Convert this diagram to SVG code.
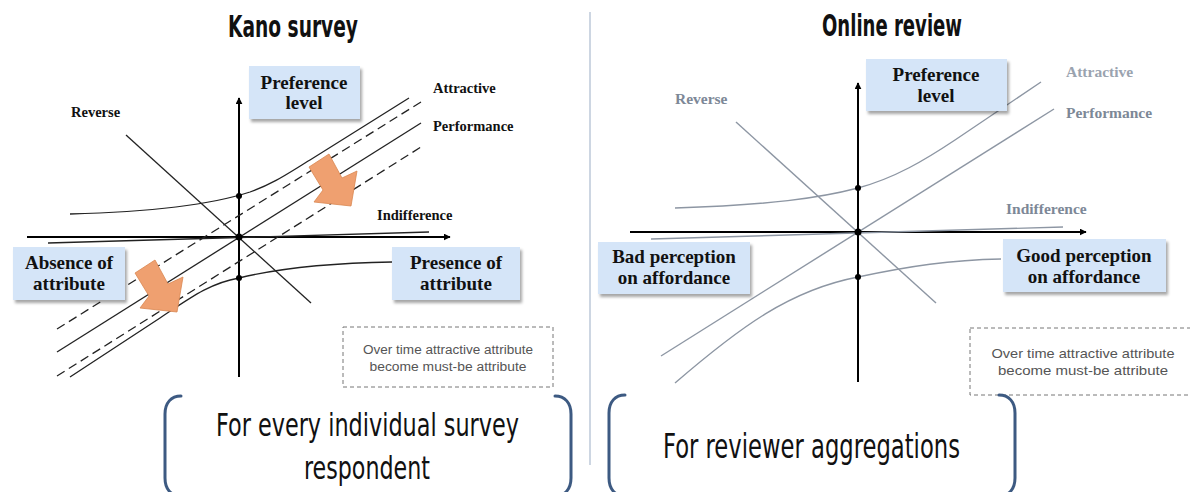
<svg xmlns="http://www.w3.org/2000/svg" width="1190" height="492" viewBox="0 0 1190 492">
<style>
.title{font-family:"DejaVu Sans Condensed","DejaVu Sans",sans-serif;font-weight:bold;font-size:30px;fill:#111}
.big{font-family:"DejaVu Sans Condensed","DejaVu Sans",sans-serif;font-size:32px;fill:#111}
.box{fill:#D5E5F8;filter:url(#sh)}
.bt{font-family:"Liberation Serif",serif;font-weight:bold;font-size:19px;fill:#111;text-anchor:middle}
.lbl{font-family:"Liberation Serif",serif;font-weight:bold;font-size:14.5px;fill:#111}
.lblr{font-family:"Liberation Serif",serif;font-weight:bold;font-size:15.5px;fill:#7D8897}
.note{font-family:"Liberation Sans",sans-serif;font-size:12.5px;fill:#555;text-anchor:middle}
.dbox{fill:none;stroke:#777;stroke-width:1;stroke-dasharray:4 3}
.ax{stroke:#000;stroke-width:2;fill:none}
.ln{stroke:#222;stroke-width:1.3;fill:none}
.dash{stroke:#222;stroke-width:1.3;fill:none;stroke-dasharray:9 5}
.lnr{stroke:#8D96A3;stroke-width:1.4;fill:none}
.br{stroke:#3D5A82;stroke-width:3;fill:none;stroke-linecap:round}
.arr{fill:#EFA070;stroke:#D98750;stroke-width:0.8}
</style>
<defs>
<filter id="sh" x="-10%" y="-10%" width="130%" height="140%">
<feDropShadow dx="2" dy="3" stdDeviation="1.8" flood-color="#000" flood-opacity="0.35"/>
</filter>
<marker id="ah" viewBox="0 0 10 10" refX="9" refY="5" markerWidth="7" markerHeight="7" markerUnits="userSpaceOnUse" orient="auto">
<path d="M0,0 L10,5 L0,10 z" fill="#000"/>
</marker>
<polygon id="blk" points="309,167 329,154 342,178 357,171 351,206 314,202 323,190"/>
</defs>

<line id="divider" x1="590" y1="12" x2="590" y2="465" stroke="#BCC8D8" stroke-width="1.5"/>

<!-- LEFT PANEL -->
<g id="connectors-left">
<line class="ax" x1="27" y1="237" x2="450" y2="237" marker-end="url(#ah)"/>
<line class="ax" x1="239" y1="377" x2="239" y2="98" marker-end="url(#ah)"/>
<line class="ln" x1="126" y1="135" x2="311" y2="303"/>
<line class="ln" x1="48" y1="243" x2="429" y2="232"/>
<line class="ln" x1="57" y1="352" x2="421" y2="123"/>
<line class="dash" x1="57" y1="329" x2="421" y2="102"/>
<line class="dash" x1="57" y1="376" x2="421" y2="147"/>
<path class="ln" d="M70,214 C150,212 210,205 250,192 C275,183 290,172 310,160 L409,98"/>
<path class="ln" d="M70,377 L160,318 C190,298 210,283 239,278 C280,268 330,263 392,262"/>
<circle cx="239" cy="196" r="3" fill="#000"/>
<circle cx="239" cy="278" r="3" fill="#000"/>
<circle cx="239" cy="237" r="3.5" fill="#000"/>
</g>
<g id="arrow-1"><use href="#blk" class="arr"/></g>
<g id="arrow-2"><use href="#blk" class="arr" transform="translate(-174,106)"/></g>

<g id="title-left"><text class="title" x="228" y="37" textLength="130" lengthAdjust="spacingAndGlyphs">Kano survey</text></g>
<g id="pref-left"><rect class="box" x="249" y="66" width="111" height="53"/>
<text class="bt" x="304" y="89">Preference</text><text class="bt" x="304" y="109">level</text></g>
<g id="absence"><rect class="box" x="13" y="247" width="112" height="53"/>
<text class="bt" x="69" y="269">Absence of</text><text class="bt" x="69" y="290">attribute</text></g>
<g id="presence"><rect class="box" x="392" y="247" width="128" height="53"/>
<text class="bt" x="456" y="269">Presence of</text><text class="bt" x="456" y="290">attribute</text></g>
<g id="labels-left">
<text class="lbl" x="433" y="93">Attractive</text>
<text class="lbl" x="433" y="131">Performance</text>
<text class="lbl" x="71" y="117">Reverse</text>
<text class="lbl" x="377" y="220">Indifference</text>
</g>
<g id="note-left"><rect class="dbox" x="343" y="327" width="210" height="60"/>
<text class="note" x="448" y="354" textLength="170" lengthAdjust="spacingAndGlyphs">Over time attractive attribute</text>
<text class="note" x="448" y="371" textLength="157" lengthAdjust="spacingAndGlyphs">become must-be attribute</text></g>
<g id="bracket-left">
<path class="br" d="M181,396 C171,396 165,403 165,414 L165,478 C165,489 171,496 181,496"/>
<path class="br" d="M555,396 C565,396 571,403 571,414 L571,478 C571,489 565,496 555,496"/>
<text class="big" x="216" y="436" textLength="303" lengthAdjust="spacingAndGlyphs">For every individual survey</text>
<text class="big" x="304" y="479" textLength="126" lengthAdjust="spacingAndGlyphs">respondent</text>
</g>

<!-- RIGHT PANEL -->
<g id="connectors-right">
<line class="ax" x1="630" y1="232" x2="1086" y2="232" marker-end="url(#ah)"/>
<line class="ax" x1="858" y1="382" x2="858" y2="83" marker-end="url(#ah)"/>
<line class="lnr" x1="736" y1="122" x2="936" y2="303"/>
<line class="lnr" x1="651" y1="239" x2="1063" y2="227"/>
<line class="lnr" x1="661" y1="356" x2="1054" y2="109"/>
<path class="lnr" d="M675,208 C770,205 820,198 858,188 C895,178 925,160 955,140 L1041,82"/>
<path class="lnr" d="M675,383 C740,327 790,290 858,277 C910,266 950,260 1001,259"/>
<circle cx="858" cy="188" r="3" fill="#000"/>
<circle cx="858" cy="277" r="3" fill="#000"/>
<circle cx="858" cy="232" r="3.5" fill="#000"/>
</g>
<g id="title-right"><text class="title" x="822" y="36" textLength="140" lengthAdjust="spacingAndGlyphs">Online review</text></g>
<g id="pref-right"><rect class="box" x="866" y="59" width="141" height="52"/>
<text class="bt" x="936" y="81">Preference</text><text class="bt" x="936" y="102">level</text></g>
<g id="bad"><rect class="box" x="598" y="242" width="152" height="52"/>
<text class="bt" x="674" y="263">Bad perception</text><text class="bt" x="674" y="284">on affordance</text></g>
<g id="good"><rect class="box" x="1003" y="239" width="163" height="53"/>
<text class="bt" x="1084" y="262">Good perception</text><text class="bt" x="1084" y="283">on affordance</text></g>
<g id="labels-right">
<text class="lblr" x="1066" y="77" style="fill:#9AA3AF">Attractive</text>
<text class="lblr" x="1066" y="118">Performance</text>
<text class="lblr" x="675" y="104">Reverse</text>
<text class="lblr" x="1006" y="214">Indifference</text>
</g>
<g id="note-right"><rect class="dbox" x="970" y="328" width="240" height="67"/>
<text class="note" x="1083" y="358" style="font-size:13.5px" textLength="183" lengthAdjust="spacingAndGlyphs">Over time attractive attribute</text>
<text class="note" x="1083" y="375" style="font-size:13.5px" textLength="170" lengthAdjust="spacingAndGlyphs">become must-be attribute</text></g>
<g id="bracket-right">
<path class="br" d="M625,395 C615,395 609,402 609,413 L609,478 C609,489 615,496 625,496"/>
<path class="br" d="M999,395 C1009,395 1015,402 1015,413 L1015,478 C1015,489 1009,496 999,496"/>
<text class="big" x="663" y="458" style="font-size:34px" textLength="297" lengthAdjust="spacingAndGlyphs">For reviewer aggregations</text>
</g>
</svg>
